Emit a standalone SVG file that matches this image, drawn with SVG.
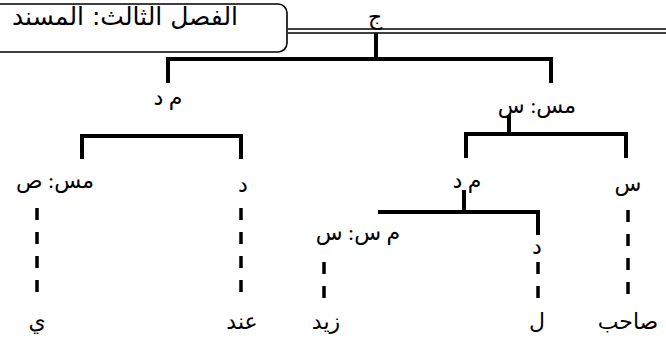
<svg xmlns="http://www.w3.org/2000/svg" width="666" height="347" viewBox="0 0 666 347">
<style>
.lbl{font-family:"Liberation Serif","DejaVu Sans",serif;font-size:22px;fill:#000;text-anchor:middle}
.title{font-family:"DejaVu Sans",sans-serif;font-size:25px;fill:#000;text-anchor:middle}
.br{fill:none;stroke:#000;stroke-width:4;stroke-linecap:square}
.dash{fill:none;stroke:#000;stroke-width:3.5;stroke-dasharray:12 12}
.dbl{stroke:#000;stroke-width:1.6}
</style>
<rect width="666" height="347" fill="#fff"/>
<g id="title">
<rect x="-10" y="4" width="297" height="48" rx="9" fill="none" stroke="#000" stroke-width="1.6"/>
<text class="title" x="125" y="25" direction="rtl">الفصل الثالث: المسند</text>
</g>
<g id="connectors">
<line class="dbl" x1="288" y1="29" x2="666" y2="29"/>
<line class="dbl" x1="288" y1="33" x2="666" y2="33"/>
<path class="br" d="M376 35 V59 M168 81 V59 H551 V81"/>
<path class="br" d="M82 157 V136 H241 V157"/>
<path class="br" d="M509 117 V134 M466 156 V134 H626 V156"/>
<path class="br" d="M464 192 V212 M380 212 H538 V233"/>
<path class="dash" d="M37 208 V304"/>
<path class="dash" d="M241 208 V304"/>
<path class="dash" d="M628 210 V306"/>
<path class="dash" d="M324 262 V306"/>
<path class="dash" d="M538 262 V306"/>
</g>
<g id="n-j"><text class="lbl" x="375" y="24">ج</text></g>
<g id="n-md1"><text class="lbl" x="168" y="105" direction="rtl">م د</text></g>
<g id="n-mss"><text class="lbl" x="537" y="113" direction="rtl">مس: س</text></g>
<g id="n-mssad"><text class="lbl" x="55" y="188" direction="rtl">مس: ص</text></g>
<g id="n-d1"><text class="lbl" x="243" y="192">د</text></g>
<g id="n-md2"><text class="lbl" x="467" y="188" direction="rtl">م د</text></g>
<g id="n-s"><text class="lbl" x="628" y="191">س</text></g>
<g id="n-mss2"><text class="lbl" x="358" y="240" direction="rtl">م س: س</text></g>
<g id="n-d2"><text class="lbl" x="537" y="254">د</text></g>
<g id="n-y"><text class="lbl" x="37" y="329">ي</text></g>
<g id="n-ind"><text class="lbl" x="242" y="329">عند</text></g>
<g id="n-zayd"><text class="lbl" x="326" y="329">زيد</text></g>
<g id="n-l"><text class="lbl" x="537" y="329">ل</text></g>
<g id="n-sahib"><text class="lbl" x="628" y="329">صاحب</text></g>
</svg>
